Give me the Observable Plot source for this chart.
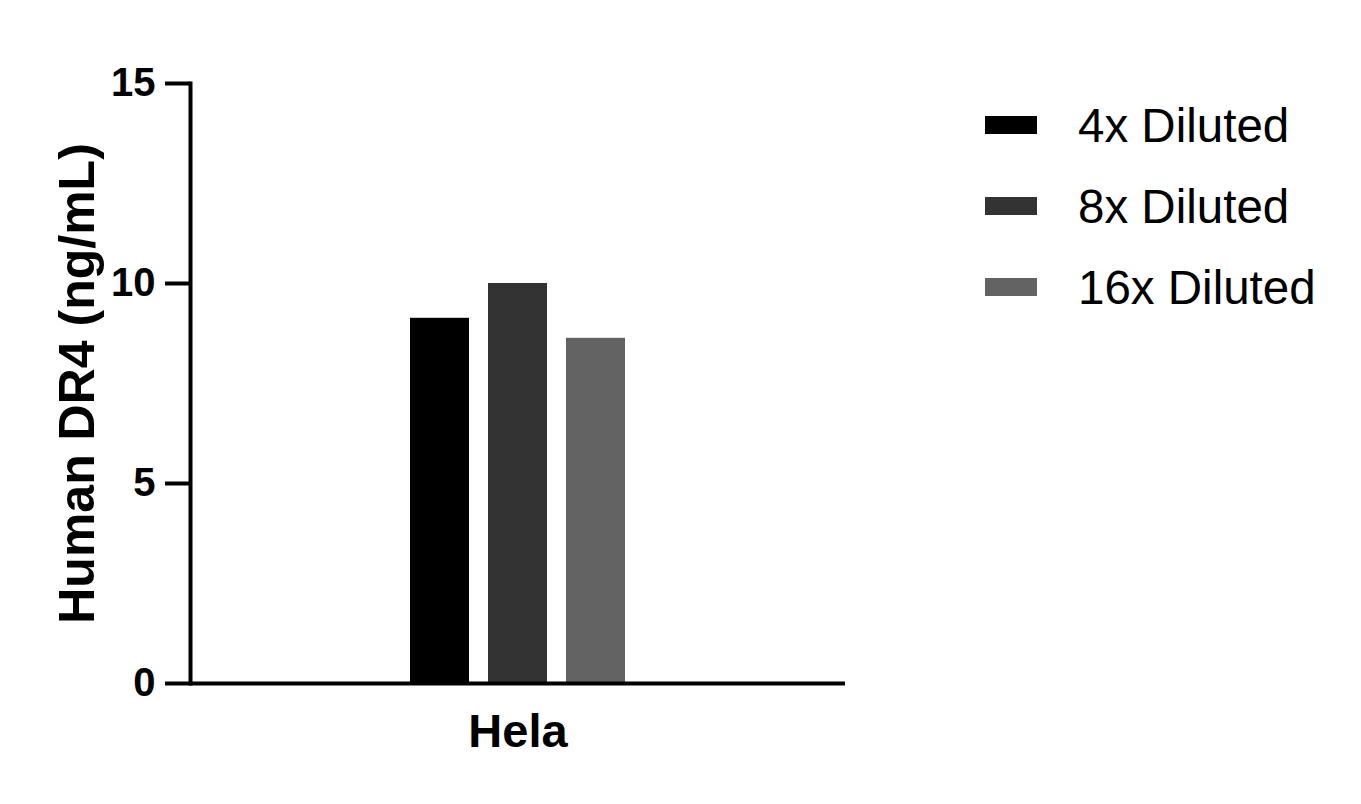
<!DOCTYPE html>
<html>
<head>
<meta charset="utf-8">
<script src="https://cdn.jsdelivr.net/npm/d3@7"></script>
<script src="https://cdn.jsdelivr.net/npm/@observablehq/plot@0.6"></script>
<style>
  html, body { margin: 0; padding: 0; background: #fff; }
  #wrap { position: relative; width: 1361px; height: 804px; overflow: hidden; }
  #legend { position: absolute; left: 985px; top: 100px; font-family: "Liberation Sans", Arial, sans-serif; }
  .row { position: absolute; left: 0; display: flex; align-items: center; white-space: nowrap; height: 50px; }
  .sw { width: 52px; height: 18px; }
  .lab { margin-left: 41px; font-size: 47.5px; color: #000; }
</style>
</head>
<body>
<div id="wrap"><div id="legend"></div></div>
<script>
const groups = ["Hela"];
const series = ["4x Diluted", "8x Diluted", "16x Diluted"];
const values = [9.13, 10.0, 8.63];
const colors = ["#000000", "#333333", "#636363"];
const yTicks = [0, 5, 10, 15];
const yLabel = "Human DR4 (ng/mL)";

const data = series.map((s, i) => ({group: groups[0], series: s, value: values[i]}));

const chart = Plot.plot({
  width: 1361,
  height: 804,
  marginLeft: 190,
  marginRight: 516,
  marginTop: 83,
  marginBottom: 121,
  style: {fontFamily: "'Liberation Sans', Arial, sans-serif", background: "white", color: "black"},
  fx: {domain: groups, padding: 0},
  x: {domain: series, paddingInner: 0.25, paddingOuter: 2.8, axis: null},
  y: {domain: [0, 15]},
  color: {domain: series, range: colors},
  marks: [
    Plot.barY(data, {fx: "group", x: "series", y: "value", fill: "series"}),
    Plot.ruleY([0], {strokeWidth: 4, stroke: "black"}),
    Plot.frame({anchor: "left", strokeWidth: 4, stroke: "black"}),
    Plot.axisY({
      ticks: yTicks, tickSize: 25, tickPadding: 10, strokeWidth: 4,
      fontSize: 40, fontWeight: "bold", label: null
    }),
    Plot.axisY({
      ticks: [], tickSize: 0, fontSize: 50, fontWeight: "bold", label: yLabel,
      labelAnchor: "center", labelOffset: 132, labelArrow: "none"
    }),
    Plot.axisFx({anchor: "bottom", tickSize: 0, tickPadding: 30, fontSize: 47, fontWeight: "bold", label: null})
  ]
});
document.getElementById("wrap").prepend(chart);

const legend = document.getElementById("legend");
series.forEach((s, i) => {
  const row = document.createElement("div");
  row.className = "row";
  row.style.top = (i * 81) + "px";
  const sw = document.createElement("div");
  sw.className = "sw";
  sw.style.background = colors[i];
  const lab = document.createElement("div");
  lab.className = "lab";
  lab.textContent = s;
  row.append(sw, lab);
  legend.append(row);
});
</script>
</body>
</html>
